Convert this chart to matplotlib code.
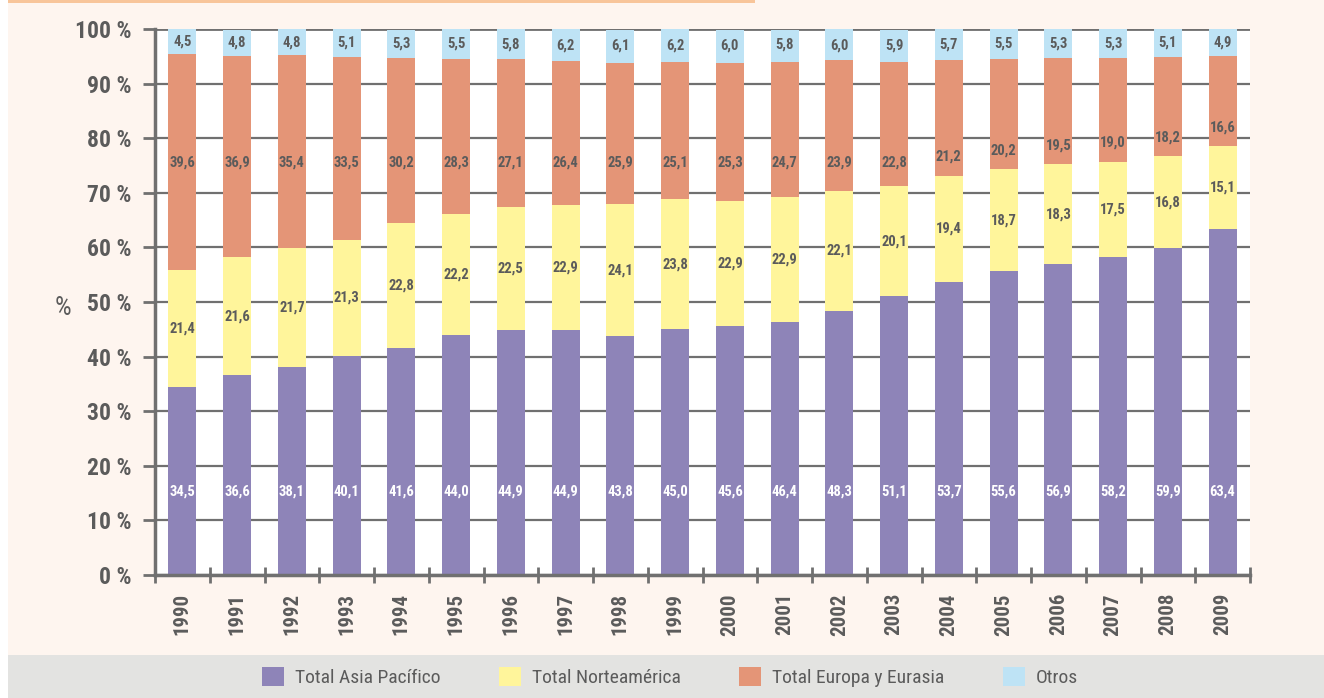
import matplotlib.pyplot as plt
import numpy as np
from matplotlib.patches import Rectangle, Patch

years = [str(y) for y in range(1990, 2010)]
asia = [34.5, 36.6, 38.1, 40.1, 41.6, 44.0, 44.9, 44.9, 43.8, 45.0,
        45.6, 46.4, 48.3, 51.1, 53.7, 55.6, 56.9, 58.2, 59.9, 63.4]
norteamerica = [21.4, 21.6, 21.7, 21.3, 22.8, 22.2, 22.5, 22.9, 24.1, 23.8,
                22.9, 22.9, 22.1, 20.1, 19.4, 18.7, 18.3, 17.5, 16.8, 15.1]
europa = [39.6, 36.9, 35.4, 33.5, 30.2, 28.3, 27.1, 26.4, 25.9, 25.1,
          25.3, 24.7, 23.9, 22.8, 21.2, 20.2, 19.5, 19.0, 18.2, 16.6]
otros = [4.5, 4.8, 4.8, 5.1, 5.3, 5.5, 5.8, 6.2, 6.1, 6.2,
         6.0, 5.8, 6.0, 5.9, 5.7, 5.5, 5.3, 5.3, 5.1, 4.9]
series_names = ['Total Asia Pacífico', 'Total Norteamérica', 'Total Europa y Eurasia', 'Otros']

colors = ['#8E84B8', '#FFF59B', '#E49577', '#BEE3F5']
text_col = '#5B5B5B'
grid_col = '#707070'

plt.rcParams['font.family'] = ['Roboto Condensed', 'DejaVu Sans']
plt.rcParams['font.stretch'] = 'condensed'

fig = plt.figure(figsize=(13.24, 6.98), dpi=100)
fig.patch.set_facecolor('white')

# background panels
W, H = 1324, 698
fig.patches.append(Rectangle((8 / W, 43 / H), 1 - 8 / W, 1 - 43 / H, transform=fig.transFigure,
                             facecolor='#FEF5EF', edgecolor='none', zorder=-10))
fig.patches.append(Rectangle((8 / W, 0), 1 - 8 / W, 43 / H, transform=fig.transFigure,
                             facecolor='#E3E3E1', edgecolor='none', zorder=-10))
fig.patches.append(Rectangle((8 / W, 1 - 2.5 / H), (755 - 8) / W, 2.5 / H, transform=fig.transFigure,
                             facecolor='#F8C59A', edgecolor='none', zorder=-9))

ax = fig.add_axes([155 / W, 1 - 575 / H, (1250 - 155) / W, (575 - 29) / H])
ax.set_facecolor('white')

x = np.arange(len(years))
data = [np.array(asia), np.array(norteamerica), np.array(europa), np.array(otros)]
bottom = np.zeros(len(years))
for vals, col in zip(data, colors):
    ax.bar(x, vals, bottom=bottom, width=0.51, color=col, zorder=3)
    bottom += vals

# value labels
lab_kw = dict(ha='center', va='center', fontsize=10.5, fontweight='bold', zorder=4)
fmt = lambda v: f'{v:.1f}'.replace('.', ',')
for i in range(len(years)):
    ax.text(x[i], 15.2, fmt(asia[i]), color='white', **lab_kw)
    ax.text(x[i], asia[i] + norteamerica[i] / 2, fmt(norteamerica[i]), color=text_col, **lab_kw)
    eb = asia[i] + norteamerica[i]
    ax.text(x[i], max(75.6, eb + 3.5), fmt(europa[i]), color=text_col, **lab_kw)
    ax.text(x[i], 100 - otros[i] / 2, fmt(otros[i]), color=text_col, **lab_kw)

ax.set_xlim(-0.5, len(years) - 0.5)
ax.set_ylim(0, 100)
ax.set_yticks(np.arange(0, 101, 10))
ax.set_yticklabels([f'{v} %' for v in range(0, 101, 10)], fontsize=17, color=text_col, fontweight='bold')
ax.yaxis.grid(True, color=grid_col, linewidth=1.6, zorder=1)
ax.tick_params(axis='y', length=9, width=2, color=grid_col, pad=8)

ax.set_xticks(x)
ax.set_xticklabels(years, rotation=90, fontsize=15, color=text_col, fontweight='bold')
ax.set_xticks(np.arange(-0.5, len(years) - 0.4, 1), minor=True)
ax.tick_params(axis='x', which='major', length=0, pad=13)
ax.tick_params(axis='x', which='minor', length=12, width=2, color=grid_col, direction='inout')

for side in ['top', 'right']:
    ax.spines[side].set_visible(False)
for side in ['left', 'bottom']:
    ax.spines[side].set_color(grid_col)
    ax.spines[side].set_linewidth(2.5)
    ax.spines[side].set_zorder(5)
ax.axhline(100, color=grid_col, linewidth=2, zorder=1)

fig.text(63 / W, 1 - 308 / H, '%', fontsize=19, color=text_col, ha='center', va='center')

handles = [Patch(facecolor=c, edgecolor='none') for c in colors]
fig.legend(handles, series_names, loc='center', bbox_to_anchor=(670 / W, 21 / H), ncol=4,
           frameon=False, fontsize=14, labelcolor=text_col, handlelength=1.15, handleheight=1.15,
           columnspacing=3.0, handletextpad=0.55)

fig.savefig('out.png', dpi=100, facecolor=fig.get_facecolor())
